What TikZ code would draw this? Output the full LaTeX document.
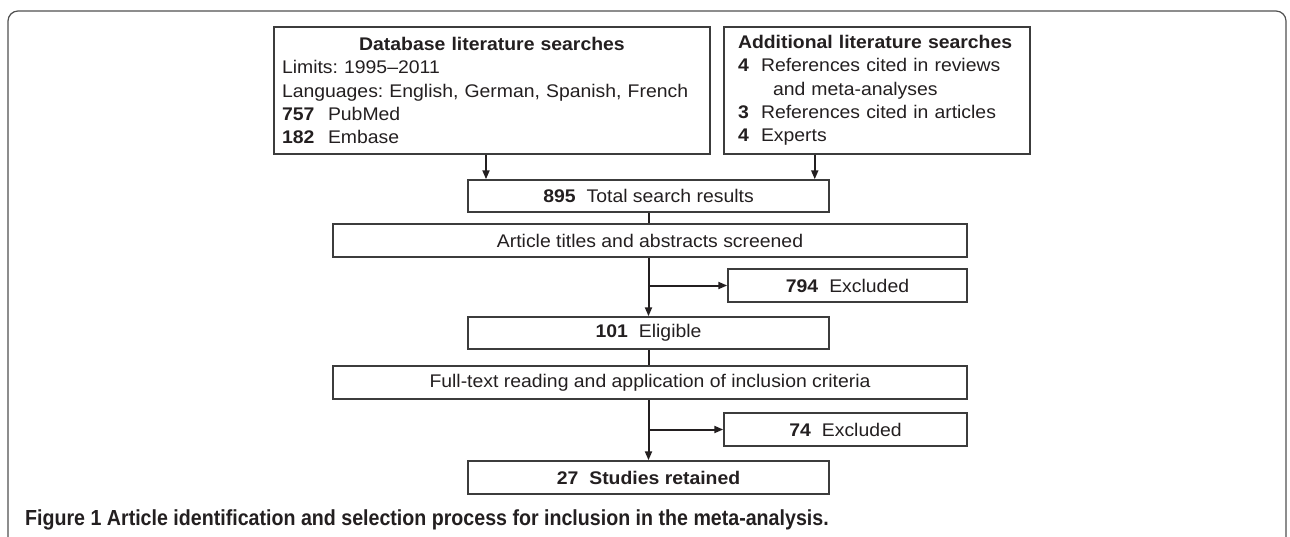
\documentclass[tikz,border=0pt]{standalone}
\usepackage{fontspec}
\setmainfont{Liberation Sans}[FakeStretch=1.06]
\newfontfamily\capfont{Liberation Sans}[FakeStretch=0.9]
\usetikzlibrary{arrows.meta}
\definecolor{ink}{HTML}{231F20}
\definecolor{boxline}{HTML}{3C3C3C}
\definecolor{framegray}{HTML}{505050}
\newcommand{\tally}[1]{\textbf{#1}\hspace{11pt}}
\frenchspacing

\begin{document}
\begin{tikzpicture}[x=1pt,y=-1pt,
  box/.style={draw=boxline,line width=1.5pt,fill=white,inner sep=0pt,text=ink,font=\fontsize{18.3}{23.3}\selectfont},
  link/.style={draw=ink,line width=2pt},
  arr/.style={link,-{Triangle[length=9pt,width=7pt]}}]
\useasboundingbox (0,0) rectangle (1290,536);
\draw[framegray,line width=1.2pt,rounded corners=10pt] (8,540) -- (8,11) -- (1286,11) -- (1286,540);
% sources
\node[box,minimum width=436pt,minimum height=127pt,text width=420pt,align=left] (db) at (492,90.5) {\makebox[420pt]{\bfseries Database literature searches}\\ Limits: 1995--2011\\ Languages: English, German, Spanish, French\\ \makebox[46pt][l]{\bfseries 757}PubMed\\ \makebox[46pt][l]{\bfseries 182}Embase};
\node[box,minimum width=306pt,minimum height=127pt,text width=278pt,align=left] (add) at (877,90.5) {{\bfseries Additional literature searches}\\ \makebox[23pt][l]{\bfseries 4}References cited in reviews\\ \hspace*{35pt}and meta-analyses\\ \makebox[23pt][l]{\bfseries 3}References cited in articles\\ \makebox[23pt][l]{\bfseries 4}Experts};
% screening chain
\node[box,minimum width=361pt,minimum height=32pt] (total) at (648.5,196) {\tally{895}Total search results};
\node[box,minimum width=634pt,minimum height=33pt] (screen) at (650,240.5) {Article titles and abstracts screened};
\node[box,minimum width=239pt,minimum height=33pt] (excl1) at (847.5,285.5) {\tally{794}Excluded};
\node[box,minimum width=361pt,minimum height=32pt] (elig) at (648.5,333) {\tally{101}Eligible};
\node[box,minimum width=634pt,minimum height=33pt] (full) at (650,382.5) {Full-text reading and application of inclusion criteria};
\node[box,minimum width=243pt,minimum height=33pt] (excl2) at (845.5,429.5) {\tally{74}Excluded};
\node[box,minimum width=361pt,minimum height=33pt] (kept) at (648.5,477.5) {\bfseries\tally{27}Studies retained};
\node[anchor=base west,inner sep=0pt,text=ink,font=\capfont\bfseries\fontsize{21.8}{25}\selectfont] (cap) at (25,525) {Figure 1 Article identification and selection process for inclusion in the meta-analysis.};
% connectors
\path[arr] ([xshift=-6pt]db.south) -- ([xshift=-6pt]db.south |- total.north);
\path[arr] ([xshift=-15pt]total.north east |- add.south) -- ([xshift=-15pt]total.north east);
\path[link] (total.south) -- (total.south |- screen.north);
\path[arr] (elig.north |- screen.south) -- (elig.north);
\path[arr] (excl1.west -| elig.north) -- (excl1.west);
\path[link] (elig.south) -- (elig.south |- full.north);
\path[arr] (kept.north |- full.south) -- (kept.north);
\path[arr] (excl2.west -| kept.north) -- (excl2.west);
\end{tikzpicture}
\end{document}
